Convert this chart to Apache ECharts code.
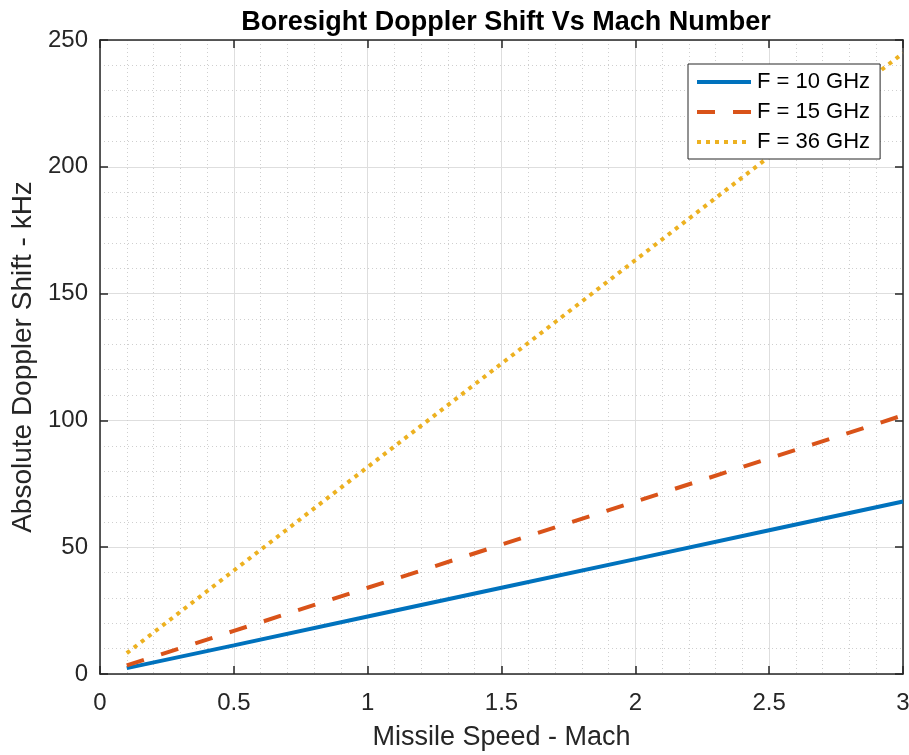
<!DOCTYPE html>
<html>
<head>
<meta charset="utf-8">
<title>Boresight Doppler Shift Vs Mach Number</title>
<script src="https://cdn.jsdelivr.net/npm/echarts@6/dist/echarts.min.js"></script>
<style>
  html, body { margin: 0; padding: 0; background: #ffffff; }
  #chart { width: 909px; height: 755px; }
</style>
</head>
<body>
<div id="chart"></div>
<script>
// Missile speed (Mach) sample points
const mach = [0.1, 0.5, 1.0, 1.5, 2.0, 2.5, 3.0];
// Absolute boresight Doppler shift in kHz for each carrier frequency
const shift10GHz = [2.3, 11.3, 22.7, 34.0, 45.3, 56.7, 68.0];
const shift15GHz = [3.4, 17.0, 34.0, 51.0, 68.0, 85.0, 102.0];
const shift36GHz = [8.2, 40.8, 81.6, 122.4, 163.2, 204.0, 244.8];
const seriesNames = ['F = 10 GHz', 'F = 15 GHz', 'F = 36 GHz'];

const FONT = '"Liberation Sans", Arial, Helvetica, sans-serif';
const AXIS_COLOR = '#262626';

const pairs = ys => mach.map((m, i) => [m, ys[i]]);

const chart = echarts.init(document.getElementById('chart'), null, { renderer: 'canvas' });

const gridLines = {
  splitLine: { show: true, lineStyle: { color: '#dedede', width: 1, type: 'solid' } },
  minorSplitLine: { show: true, lineStyle: { color: '#cfcfcf', width: 1, type: [1, 3] } }
};

const baseX = {
  type: 'value', min: 0, max: 3, interval: 0.5,
  axisLine: { show: true, onZero: false, lineStyle: { color: AXIS_COLOR, width: 1.5 } },
  axisTick: { show: true, inside: true, length: 8, lineStyle: { color: AXIS_COLOR, width: 1.5 } },
  minorTick: { show: false, splitNumber: 5 }
};
const baseY = {
  type: 'value', min: 0, max: 250, interval: 50,
  axisLine: { show: true, onZero: false, lineStyle: { color: AXIS_COLOR, width: 1.5 } },
  axisTick: { show: true, inside: true, length: 8, lineStyle: { color: AXIS_COLOR, width: 1.5 } },
  minorTick: { show: false, splitNumber: 5 }
};

chart.setOption({
  animation: false,
  backgroundColor: '#ffffff',
  title: {
    text: 'Boresight Doppler Shift Vs Mach Number',
    left: 501, top: 4, textAlign: 'center',
    textStyle: { fontFamily: FONT, fontSize: 27, fontWeight: 'bold', color: '#000000' }
  },
  grid: { left: 100, right: 6, top: 40, bottom: 81, containLabel: false, outerBoundsMode: 'none' },
  legend: {
    orient: 'vertical',
    left: 688, top: 64,
    padding: [7, 10, 6, 7],
    itemWidth: 54, itemHeight: 14, itemGap: 8,
    backgroundColor: '#ffffff',
    borderColor: AXIS_COLOR, borderWidth: 1,
    textStyle: { fontFamily: FONT, fontSize: 22, color: '#000000', padding: [0, 0, 0, 1] },
    lineStyle: { width: 4 },
    itemStyle: { opacity: 0 },
    data: seriesNames
  },
  xAxis: [
    Object.assign({}, baseX, gridLines, {
      position: 'bottom',
      name: 'Missile Speed - Mach', nameLocation: 'middle', nameGap: 50,
      nameTextStyle: { fontFamily: FONT, fontSize: 27, color: AXIS_COLOR },
      axisLabel: { fontFamily: FONT, fontSize: 24, color: AXIS_COLOR, margin: 17 }
    }),
    Object.assign({}, baseX, {
      position: 'top', axisLabel: { show: false },
      splitLine: { show: false }, minorSplitLine: { show: false }
    })
  ],
  yAxis: [
    Object.assign({}, baseY, gridLines, {
      position: 'left',
      name: 'Absolute Doppler Shift - kHz', nameLocation: 'middle', nameGap: 56,
      nameTextStyle: { fontFamily: FONT, fontSize: 28, color: AXIS_COLOR },
      axisLabel: { fontFamily: FONT, fontSize: 24, color: AXIS_COLOR, margin: 12 }
    }),
    Object.assign({}, baseY, {
      position: 'right', axisLabel: { show: false },
      splitLine: { show: false }, minorSplitLine: { show: false }
    })
  ],
  series: [
    {
      name: seriesNames[0], type: 'line', data: pairs(shift10GHz),
      symbol: 'none', color: '#0072BD',
      lineStyle: { color: '#0072BD', width: 4, type: 'solid', cap: 'butt' }
    },
    {
      name: seriesNames[1], type: 'line', data: pairs(shift15GHz),
      symbol: 'none', color: '#D95319',
      lineStyle: { color: '#D95319', width: 4, type: [18, 18], cap: 'butt' }
    },
    {
      name: seriesNames[2], type: 'line', data: pairs(shift36GHz),
      symbol: 'none', color: '#EDB120',
      lineStyle: { color: '#EDB120', width: 4, type: [4, 5], cap: 'butt' }
    }
  ]
});
</script>
</body>
</html>
